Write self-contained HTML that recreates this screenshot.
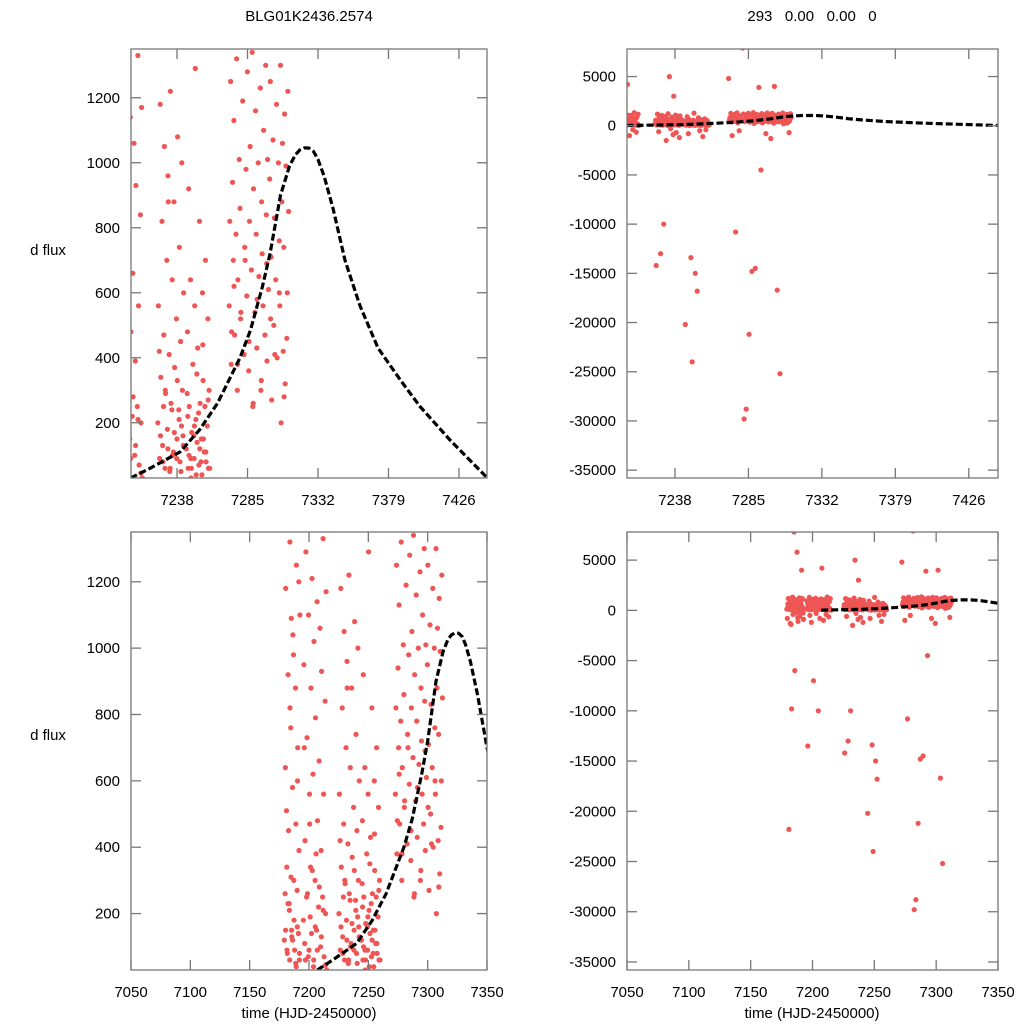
<!DOCTYPE html>
<html><head><meta charset="utf-8"><style>
html,body{margin:0;background:#fff;width:1024px;height:1024px;overflow:hidden}
svg{display:block;font-family:"Liberation Sans",sans-serif}
</style></head><body>
<svg id="c" width="1024" height="1024" viewBox="0 0 1024 1024"></svg>
<script>
const obsTime=[
7179.2,7179.6,7180.1,7180.4,7180.9,7181.3,7181.7,7182.0,7182.4,7182.8,7183.1,7183.5,7183.9,7184.2,7184.6,7185.0,7185.3,7185.7,7186.1,7186.4,7186.8,7187.2,7187.5,7187.9,7188.3,7188.6,7189.0,7189.4,7189.7,7190.1,7190.5,7190.8,7191.2,7191.6,7191.9,7192.3,7192.7,7179.9,7181.0,7182.6,7184.0,7185.5,7186.9,7188.0,7189.2,7190.3,7191.4,7192.5,7183.3,7185.1,
7195.3,7195.7,7196.2,7196.6,7197.0,7197.4,7197.9,7198.3,7198.7,7199.1,7199.6,7200.0,7200.4,7200.8,7201.3,7201.7,7202.1,7202.5,7203.0,7203.4,7203.8,7204.2,7204.7,7205.1,7205.5,7205.9,7206.4,7206.8,7207.2,7207.6,7208.1,7208.5,7208.9,7209.3,7209.8,7210.2,7210.6,7211.0,7211.5,7211.9,7212.3,7212.7,7213.2,7213.6,7214.0,7214.4,7214.9,7196.0,7200.6,7206.0,
7225.2,7225.6,7226.0,7226.4,7226.8,7227.2,7227.6,7228.0,7228.4,7228.8,7229.2,7229.6,7230.0,7230.4,7230.8,7231.2,7231.6,7232.0,7232.4,7232.8,7233.2,7233.6,7234.0,7234.4,7234.8,7235.2,7235.6,7236.0,7236.4,7236.8,7237.2,7237.6,7238.0,7238.4,7238.8,7239.2,7239.6,7240.0,7240.4,7240.8,7241.2,7241.6,7242.0,7242.4,7226.2,7229.0,7232.2,7235.0,7238.2,7241.0,
7244.2,7244.6,7245.0,7245.4,7245.8,7246.2,7246.6,7247.0,7247.4,7247.8,7248.2,7248.6,7249.0,7249.4,7249.8,7250.2,7250.6,7251.0,7251.4,7251.8,7252.2,7252.6,7253.0,7253.4,7253.8,7254.2,7254.6,7255.0,7255.4,7255.8,7256.2,7256.6,7257.0,7257.4,7257.8,7258.2,7258.6,7259.0,7259.4,7245.2,7247.2,7249.2,7251.2,7253.2,7255.2,
7272.3,7272.8,7273.2,7273.7,7274.1,7274.6,7275.0,7275.5,7275.9,7276.4,7276.8,7277.3,7277.7,7278.2,7278.6,7279.1,7279.5,7280.0,7280.4,7280.9,7281.3,7281.8,7282.2,7282.7,7283.1,7283.6,7284.0,7284.5,7284.9,7285.4,7285.8,7286.3,7286.7,7287.2,7287.6,7288.1,7288.5,7289.0,7289.4,7289.9,7290.3,7290.8,7291.2,7291.7,7292.1,7292.6,7293.0,7293.5,7293.9,7294.4,7294.8,7295.3,7295.7,7296.2,7296.6,7297.1,7297.5,7298.0,7298.4,7298.9,7299.3,7299.8,7300.2,7300.7,7301.1,7301.6,7302.0,7302.5,7302.9,7303.4,7303.8,7304.3,7304.7,7305.2,7305.6,7306.1,7306.5,7307.0,7307.4,7307.9,7308.3,7308.8,7309.2,7309.7,7310.1,7310.6,7311.0,7311.5,7311.9,7312.4,
7180.3,7181.5,7182.2,7183.7,7184.8,7186.2,7187.4,7188.8,7190.0,7191.1,7192.0,7196.4,7198.0,7199.4,7201.0,7202.8,7204.0,7205.3,7207.0,7208.7,7210.4,7212.0,7213.9,7227.0,7228.6,7230.2,7231.9,7233.4,7234.6,7236.2,7237.8,7239.4,7240.6,7242.2,7244.8,7246.0,7247.6,7249.6,7250.8,7252.4,7254.0,7255.6,7257.2,7258.8,7259.8,7274.4,7276.0,7278.4,7280.6,7283.4,7286.0,7288.8,7291.4,7294.2,7297.8,7300.4,7303.2,7306.2,7309.4,7311.2];
const obsFlux=[
120,-800,640,1180,-21800,340,80,-1300,920,450,-9800,210,1320,-400,760,7800,150,-6000,580,1040,-200,300,5800,90,-1100,880,470,1250,-600,160,700,-300,4000,390,60,1100,-900,260,510,-1400,820,130,980,-700,40,600,1200,-250,230,1090,
180,950,-13500,420,60,1290,-500,730,260,-1200,1100,90,560,-7000,340,880,140,1210,-300,620,40,1020,-10000,300,790,-800,150,1140,480,4200,220,660,-1000,1060,100,390,930,-400,250,1330,560,70,-650,840,200,1170,30,700,470,380,
200,560,-14200,90,1180,340,-600,820,130,-13000,470,1050,60,290,-10000,700,180,960,-1500,410,50,1220,260,5000,640,-300,110,880,370,-900,3000,520,150,1080,-700,240,740,80,450,-1200,1000,300,160,600,420,250,880,100,330,190,
120,-20200,480,60,920,250,-800,640,30,170,-13400,380,-24000,90,560,1290,210,-15000,140,430,-16800,70,820,260,-500,150,40,600,330,-1100,110,250,700,80,-400,190,520,60,300,220,90,160,350,120,440,
4800,560,820,1250,380,-1000,940,700,1130,470,-10800,780,1320,300,640,-500,1010,860,520,-36000,7900,1190,-29800,410,740,-28800,980,590,1280,-21200,360,820,1050,-14800,670,1340,250,920,-14500,540,1160,780,430,3900,1000,650,-4500,1230,300,880,720,560,1100,-800,470,1300,840,390,1010,610,-1300,950,1250,710,270,4000,1070,500,830,-16700,640,1180,400,-25200,1000,760,560,1300,200,880,1060,420,740,1150,320,990,-700,600,1220,850,
150,90,230,60,310,120,180,50,270,140,80,110,250,70,190,330,60,160,90,280,130,210,45,160,80,300,120,60,240,170,90,210,50,130,290,100,60,190,40,230,80,150,110,270,60,480,620,380,540,700,450,260,580,330,690,520,410,600,280,460];
const modelTime=[7207,7220,7240,7253,7265,7280,7287,7295,7300,7307,7313,7317,7320,7323,7326,7329,7332,7336,7342,7350,7360,7372,7387,7400,7420,7445];
const modelFlux=[30,60,110,178,260,400,485,620,720,900,990,1025,1040,1046,1045,1035,1010,960,860,700,560,430,331,250,147,30];
const ticksTopX=[7238,7285,7332,7379,7426];
const ticksBotX=[7050,7100,7150,7200,7250,7300,7350];
const ticksLeftY=[200,400,600,800,1000,1200];
const ticksRightY=[5000,0,-5000,-10000,-15000,-20000,-25000,-30000,-35000];

const NS="http://www.w3.org/2000/svg";
const svg=document.getElementById('c');
function mk(tag,attrs,parent){const e=document.createElementNS(NS,tag);for(const k in attrs)e.setAttribute(k,attrs[k]);(parent||svg).appendChild(e);return e;}
function txt(s,x,y,anchor,parent){const t=mk('text',{x:x,y:y,'text-anchor':anchor,'font-size':15,fill:'#000'},parent);t.textContent=s;return t;}

const panels=[
 {name:'top-left',x0:131,x1:487,y0:478,y1:49,dx:[7207.3,7444.7],dy:[30,1350],xt:ticksTopX,yt:ticksLeftY},
 {name:'top-right',x0:627,x1:998,y0:478,y1:49,dx:[7207.3,7444.7],dy:[-35800,7800],xt:ticksTopX,yt:ticksRightY},
 {name:'bottom-left',x0:131,x1:487,y0:970,y1:532,dx:[7050,7350],dy:[30,1350],xt:ticksBotX,yt:ticksLeftY},
 {name:'bottom-right',x0:627,x1:998,y0:970,y1:532,dx:[7050,7350],dy:[-35800,7800],xt:ticksBotX,yt:ticksRightY}
];
panels.forEach((p,i)=>{
 const g=mk('g',{});
 
 
 const sx=v=>p.x0+(v-p.dx[0])/(p.dx[1]-p.dx[0])*(p.x1-p.x0);
 const sy=v=>p.y0+(v-p.dy[0])/(p.dy[1]-p.dy[0])*(p.y1-p.y0);
 const cid='clip'+i;
 const cp=mk('clipPath',{id:cid},g);
 mk('rect',{x:p.x0,y:p.y1,width:p.x1-p.x0,height:p.y0-p.y1},cp);
 const pts=mk('g',{'clip-path':'url(#'+cid+')',fill:'#ee5555'},g);
 
 
 for(let k=0;k<obsTime.length;k++){
  const c=mk('circle',{cx:sx(obsTime[k]).toFixed(1),cy:sy(obsFlux[k]).toFixed(1),r:2.6},pts);
  
  
 }
 const d=modelTime.map((t,k)=>(k?'L':'M')+sx(t).toFixed(1)+','+sy(modelFlux[k]).toFixed(1)).join(' ');
 const ln=mk('path',{d:d,fill:'none',stroke:'#000','stroke-width':3.2,'stroke-dasharray':'7,3','clip-path':'url(#'+cid+')','stroke-linejoin':'round'},g);
 
 
 const fr=mk('rect',{x:p.x0,y:p.y1,width:p.x1-p.x0,height:p.y0-p.y1,fill:'none',stroke:'#777','stroke-width':1.3},g);
 
 
 p.xt.forEach(v=>{
  const x=sx(v);
  mk('line',{x1:x,x2:x,y1:p.y0,y2:p.y0-10,stroke:'#777','stroke-width':1.3},g);
  mk('line',{x1:x,x2:x,y1:p.y1,y2:p.y1+10,stroke:'#777','stroke-width':1.3},g);
  const t=txt(String(v),x,p.y0+27,'middle',g);
  
  
 });
 p.yt.forEach(v=>{
  const y=sy(v);
  mk('line',{x1:p.x0,x2:p.x0+10,y1:y,y2:y,stroke:'#777','stroke-width':1.3},g);
  mk('line',{x1:p.x1,x2:p.x1-10,y1:y,y2:y,stroke:'#777','stroke-width':1.3},g);
  const t=txt(String(v),p.x0-11,y+5,'end',g);
  
  
 });
});
let t;
t=txt('BLG01K2436.2574',309,21,'middle');


t=txt('293   0.00   0.00   0',812,21,'middle');
t.setAttribute('style','white-space:pre');


t=txt('d flux',48,255,'middle');


t=txt('d flux',48,740,'middle');


t=txt('time (HJD-2450000)',309,1018,'middle');


t=txt('time (HJD-2450000)',812,1018,'middle');


</script>
</body></html>
